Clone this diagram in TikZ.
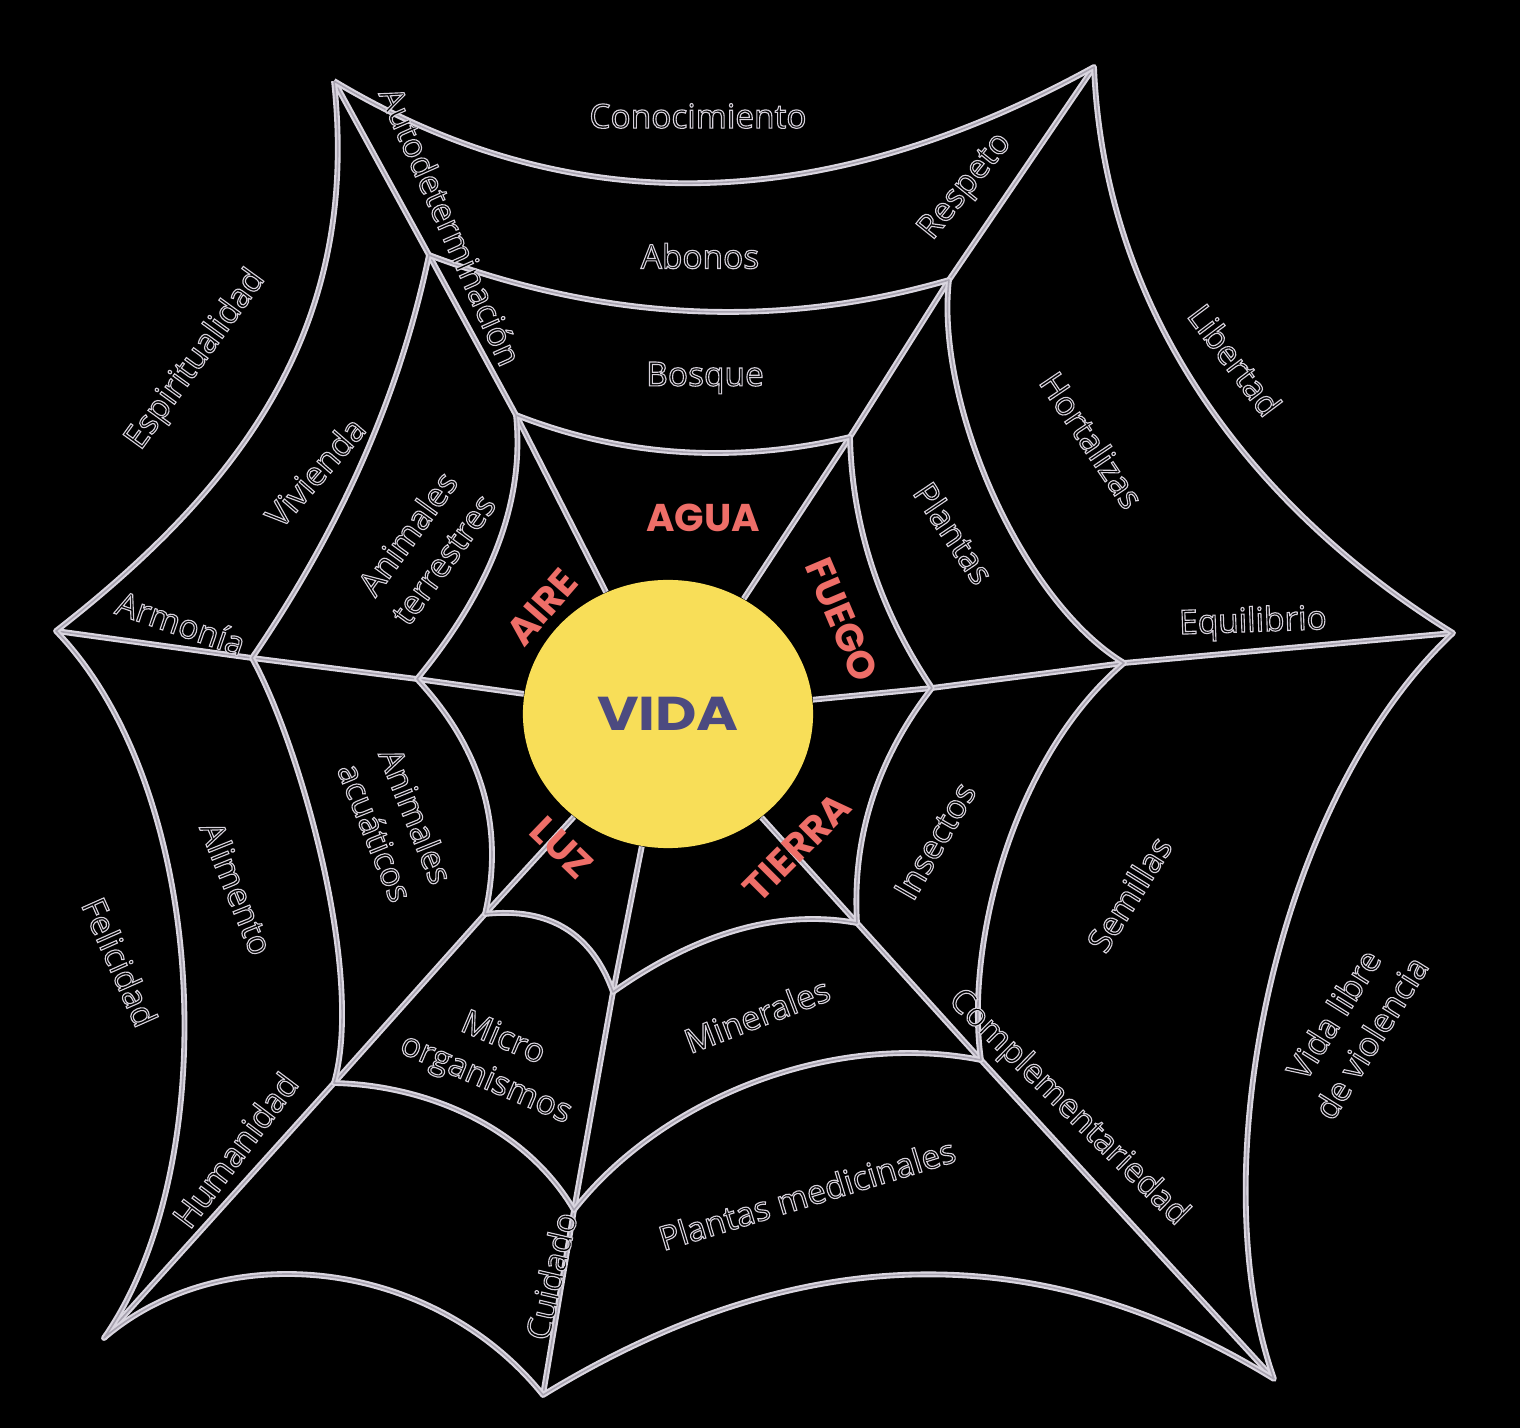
\documentclass[tikz,border=0pt]{standalone}
\usepackage{fontspec}
\usetikzlibrary{shapes.geometric}
\newfontfamily\wordfont{Open Sans}
\newfontfamily\elemfont{Poppins}
\newfontfamily\vidafont{Poppins}[FakeStretch=1.2]
\definecolor{webgray}{RGB}{218,214,224}
\definecolor{webcore}{RGB}{168,163,176}
\definecolor{sunyellow}{RGB}{248,222,88}
\definecolor{vidablue}{RGB}{76,74,128}
\definecolor{coral}{RGB}{238,110,104}
\newcommand{\halo}[1]{\special{pdf:literal 2 Tr 0.32 w 0.84 0.82 0.86 RG}#1\special{pdf:literal 0 Tr}}

\begin{document}
\begin{tikzpicture}[
    x=0.01cm, y=-0.01cm,
    web/.style={draw=webgray, line width=0.6pt, double=webcore, double distance=0.45pt, line join=round},
    word/.style={font=\wordfont\fontsize{9.5}{12.5}\selectfont, text=black, align=center, inner sep=0pt},
    elem/.style={font=\elemfont\bfseries\fontsize{11}{13}\selectfont, text=coral, inner sep=0pt},
    core/.style={ellipse, fill=sunyellow, minimum width=2.9cm, minimum height=2.68cm, inner sep=0pt,
        font=\vidafont\bfseries\fontsize{13.5}{16}\selectfont, text=vidablue}
]
\fill[black] (0,0) rectangle (1520,1428);
\useasboundingbox (0,0) rectangle (1520,1428);

\coordinate (o1) at (334,81);
\coordinate (o2) at (1094,67);
\coordinate (o3) at (1453,633);
\coordinate (o4) at (1274,1379);
\coordinate (o5) at (543,1395);
\coordinate (o6) at (104,1338);
\coordinate (o7) at (56,631);
\coordinate (m1) at (429,255);
\coordinate (m2) at (949,280);
\coordinate (m3) at (1124,663);
\coordinate (m4) at (981,1060);
\coordinate (m5) at (574,1210);
\coordinate (m6) at (334,1083);
\coordinate (m7) at (252,658);
\coordinate (i1) at (516,415);
\coordinate (i2) at (850,437);
\coordinate (i3) at (932,688);
\coordinate (i4) at (857,923);
\coordinate (i5) at (613,992);
\coordinate (i6) at (485,914);
\coordinate (i7) at (417,679);

\node[core] (vida) at (668,714) {VIDA};

\draw[web] (vida) -- (i1) -- (m1) -- (o1);
\draw[web] (vida) -- (i2) -- (m2) -- (o2);
\draw[web] (vida) -- (i3) -- (m3) -- (o3);
\draw[web] (vida) -- (i4) -- (m4) -- (o4);
\draw[web] (vida) -- (i5) -- (m5) -- (o5);
\draw[web] (vida) -- (i6) -- (m6) -- (o6);
\draw[web] (vida) -- (i7) -- (m7) -- (o7);

\draw[web] (o1) .. controls (569,222) and (822,217) .. (o2)
    .. controls (1105,330) and (1270,520) .. (o3)
    .. controls (1275,800) and (1200,1170) .. (o4)
    .. controls (1024,1225) and (780,1250) .. (o5)
    .. controls (433,1258) and (224,1235) .. (o6)
    .. controls (225,1165) and (210,790) .. (o7)
    .. controls (250,480) and (360,320) .. (o1);
\draw[web] (m1) .. controls (604,321) and (777,330) .. (m2)
    .. controls (935,400) and (1020,600) .. (m3)
    .. controls (1010,760) and (965,950) .. (m4)
    .. controls (830,1030) and (660,1100) .. (m5)
    .. controls (524,1125) and (424,1085) .. (m6)
    .. controls (365,975) and (300,745) .. (m7)
    .. controls (341,528) and (400,394) .. (m1);
\draw[web] (i1) .. controls (623,457) and (735,464) .. (i2)
    .. controls (852,525) and (879,609) .. (i3)
    .. controls (877,759) and (852,837) .. (i4)
    .. controls (780,909) and (698,932) .. (i5)
    .. controls (592,933) and (549,907) .. (i6)
    .. controls (505,827) and (482,749) .. (i7)
    .. controls (492,588) and (525,500) .. (i1);

\node[elem] (agua) at (703,518) {AGUA};
\node[elem, rotate=49] (aire) at (542,607) {AIRE};
\node[elem, rotate=-67] (fuego) at (842,620) {FUEGO};
\node[elem, rotate=45] (tierra) at (797,847) {TIERRA};
\node[elem, rotate=-44] (luz) at (562,848) {LUZ};

\node[word] (conocimiento) at (698,116) {\halo{Conocimiento}};
\node[word] (abonos) at (700,256) {\halo{Abonos}};
\node[word] (bosque) at (705,378) {\halo{Bosque}};
\node[word, rotate=-66] (autodeterminacion) at (451,226) {\halo{Autodeterminación}};
\node[word, rotate=51] (respeto) at (966,187) {\halo{Respeto}};
\node[word, rotate=54] (espiritualidad) at (196,360) {\halo{Espiritualidad}};
\node[word, rotate=49] (vivienda) at (315,472) {\halo{Vivienda}};
\node[word, rotate=54] (terrestres) at (425,546) {\halo{Animales}\\\halo{terrestres}};
\node[word, rotate=-19] (armonia) at (181,623) {\halo{Armonía}};
\node[word, rotate=-56] (plantas) at (954,533) {\halo{Plantas}};
\node[word, rotate=-56] (hortalizas) at (1092,440) {\halo{Hortalizas}};
\node[word, rotate=-53] (libertad) at (1235,360) {\halo{Libertad}};
\node[word, rotate=2] (equilibrio) at (1253,623) {\halo{Equilibrio}};
\node[word, rotate=60] (insectos) at (935,841) {\halo{Insectos}};
\node[word, rotate=58] (semillas) at (1129,894) {\halo{Semillas}};
\node[word, rotate=58] (violencia) at (1352,1026) {\halo{Vida libre}\\\halo{de violencia}};
\node[word, rotate=-44.5] (complementariedad) at (1068,1108) {\halo{Complementariedad}};
\node[word, rotate=21] (minerales) at (757,1015) {\halo{Minerales}};
\node[word, rotate=17] (medicinales) at (807,1194) {\halo{Plantas medicinales}};
\node[word, rotate=77] (cuidado) at (551,1276) {\halo{Cuidado}};
\node[word, rotate=-23] (organismos) at (494,1060) {\halo{Micro}\\\halo{organismos}};
\node[word, rotate=53] (humanidad) at (235,1150) {\halo{Humanidad}};
\node[word, rotate=-66] (felicidad) at (120,962) {\halo{Felicidad}};
\node[word, rotate=-68] (alimento) at (237,888) {\halo{Alimento}};
\node[word, rotate=-68] (acuaticos) at (396,824) {\halo{Animales}\\\halo{acuáticos}};
\end{tikzpicture}
\end{document}
